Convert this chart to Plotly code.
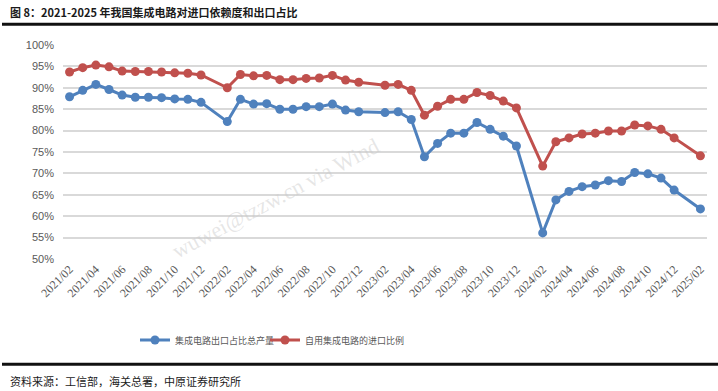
import plotly.graph_objects as go

months = [
    "2021/02", "2021/03", "2021/04", "2021/05", "2021/06", "2021/07", "2021/08", "2021/09", "2021/10", "2021/11", "2021/12",
    "2022/01", "2022/02", "2022/03", "2022/04", "2022/05", "2022/06", "2022/07", "2022/08", "2022/09", "2022/10", "2022/11", "2022/12",
    "2023/01", "2023/02", "2023/03", "2023/04", "2023/05", "2023/06", "2023/07", "2023/08", "2023/09", "2023/10", "2023/11", "2023/12",
    "2024/01", "2024/02", "2024/03", "2024/04", "2024/05", "2024/06", "2024/07", "2024/08", "2024/09", "2024/10", "2024/11", "2024/12",
    "2025/01", "2025/02",
]

export_share = [
    87.9, 89.4, 90.8, 89.6, 88.3, 87.8, 87.8, 87.7, 87.4, 87.3, 86.6,
    None, 82.1, 87.3, 86.2, 86.3, 85.0, 85.0, 85.6, 85.6, 86.2, 84.8, 84.4,
    None, 84.2, 84.4, 82.6, 73.9, 77.0, 79.4, 79.4, 81.9, 80.3, 78.7, 76.4,
    None, 56.1, 63.8, 65.8, 66.9, 67.3, 68.3, 68.1, 70.2, 69.9, 68.9, 66.1,
    None, 61.7,
]

import_share = [
    93.7, 94.7, 95.3, 94.9, 93.9, 93.8, 93.8, 93.7, 93.5, 93.4, 93.0,
    None, 90.0, 93.1, 92.8, 92.9, 91.9, 91.9, 92.2, 92.3, 92.9, 91.8, 91.3,
    None, 90.6, 90.8, 89.4, 83.6, 85.7, 87.3, 87.3, 88.9, 88.2, 86.9, 85.3,
    None, 71.7, 77.4, 78.3, 79.2, 79.4, 79.9, 79.9, 81.3, 81.1, 80.3, 78.3,
    None, 74.1,
]

tick_labels = [m for m in months if int(m[-2:]) % 2 == 0]

series_names = ["集成电路出口占比总产量", "自用集成电路的进口比例"]
colors = ["#4F81BD", "#C0504D"]

title_text = "图 8：2021-2025 年我国集成电路对进口依赖度和出口占比"
source_text = "资料来源：工信部，海关总署，中原证券研究所"
watermark_text = "wuwei@tzzw.cn via Wind"

W, H = 718, 391
L, R, T, B = 63, 11, 45, 132
PW, PH = W - L - R, H - T - B


def px(x):
    return (x - L) / PW


def py(y):
    return (H - B - y) / PH


CJK = "Noto Sans CJK SC"
legend_ids = ["legend", "legend2"]
legend_x = [135, 265]

fig = go.Figure()
for name, vals, c, lg in zip(series_names, [export_share, import_share], colors, legend_ids):
    fig.add_trace(go.Scatter(
        x=months, y=vals, name=name, mode="lines+markers",
        connectgaps=True, legend=lg,
        line=dict(color=c, width=3),
        marker=dict(color=c, size=9),
    ))

legend_style = dict(
    orientation="h", y=py(340), xanchor="left", yanchor="middle",
    font=dict(family=CJK, size=9, color="#595959"),
    itemwidth=30, bgcolor="rgba(0,0,0,0)",
)

fig.update_layout(
    width=W, height=H,
    margin=dict(l=L, r=R, t=T, b=B),
    paper_bgcolor="white", plot_bgcolor="white",
    showlegend=True,
    legend=dict(x=px(legend_x[0]), **legend_style),
    legend2=dict(x=px(legend_x[1]), **legend_style),
    xaxis=dict(
        type="category", categoryorder="array", categoryarray=months,
        range=[-0.5, len(months) - 0.5],
        tickmode="array", tickvals=tick_labels, ticktext=tick_labels,
        tickangle=-45,
        tickfont=dict(family="Liberation Serif", size=12, color="#595959"),
        showgrid=False, showline=False, zeroline=False, ticks="",
    ),
    yaxis=dict(
        range=[50, 100], dtick=5, ticksuffix="%",
        tickfont=dict(family="Liberation Sans", size=11, color="#595959"),
        showgrid=True, gridcolor="#D9D9D9", gridwidth=1.5,
        zeroline=False, showline=False, ticks="", ticklabelstandoff=8,
    ),
    hovermode=False,
)

fig.add_annotation(
    text=watermark_text, xref="paper", yref="paper",
    x=px(275), y=py(198), xanchor="center", yanchor="middle",
    textangle=-28, showarrow=False,
    font=dict(family="Liberation Serif", size=22, color="rgba(200,200,200,0.45)"),
)

fig.add_annotation(
    text="<b>" + title_text + "</b>", xref="paper", yref="paper",
    x=px(8), y=py(12), xanchor="left", yanchor="middle", showarrow=False,
    font=dict(family=CJK, size=11, color="#1a1a1a"),
)
fig.add_annotation(
    text=source_text, xref="paper", yref="paper",
    x=px(8), y=py(381), xanchor="left", yanchor="middle", showarrow=False,
    font=dict(family=CJK, size=11, color="#1a1a1a"),
)

for yline in (24.3, 364.2):
    fig.add_shape(
        type="line", xref="paper", yref="paper",
        x0=px(2), x1=px(718), y0=py(yline), y1=py(yline),
        line=dict(color="#111111", width=3),
    )

fig.write_html(
    "out.html",
    config={"displayModeBar": False},
    post_script="document.body.style.margin='0';",
)
